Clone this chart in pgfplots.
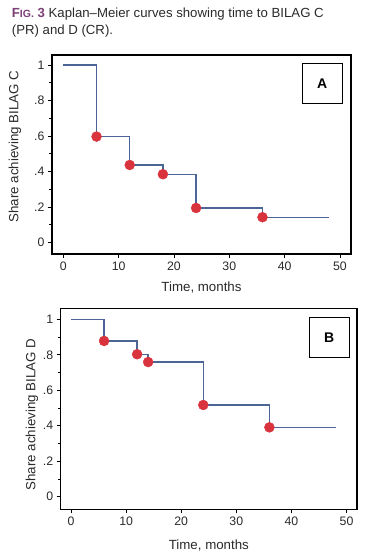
\documentclass[border=0pt]{standalone}
\usepackage{fontspec}
\setmainfont{Liberation Sans}
\usepackage{pgfplots}
\pgfplotsset{compat=1.18}
\definecolor{kmline}{HTML}{4A6596}
\definecolor{kmdot}{HTML}{D9343E}
\definecolor{figpurple}{HTML}{7B3F78}
\definecolor{captext}{HTML}{2A2A2A}

\pgfplotsset{kmaxis/.style={
  scale only axis,
  axis line style={line width=1.3pt, black},
  xtick={0,10,20,30,40,50},
  ytick={0,0.2,0.4,0.6,0.8,1},
  yticklabels={0,.2,.4,.6,.8,1},
  minor ytick={0.1,0.3,0.5,0.7,0.9},
  tick align=outside,
  tick pos=left,
  major tick length=4pt,
  minor tick length=2.5pt,
  every tick/.style={black, line width=0.8pt},
  /pgf/number format/assume math mode=true,
  xticklabel style={font=\fontsize{12.3}{13}\selectfont, text=captext},
  yticklabel style={font=\fontsize{12.3}{13}\selectfont, text=captext},
  xlabel={Time, months},
}}

\begin{document}
\begin{tikzpicture}
\path[use as bounding box] (0,0) rectangle (366pt,552pt);

\node[anchor=base west, inner sep=0pt, text=captext, font=\fontsize{13.2}{14}\selectfont] at (11.7pt,534.7pt)
  {\textcolor{figpurple}{\bfseries F{\fontsize{10.5}{11}\selectfont IG.}\ 3}\ Kaplan–Meier curves showing time to BILAG C};
\node[anchor=base west, inner sep=0pt, text=captext, font=\fontsize{13.2}{14}\selectfont] at (11.7pt,517.7pt)
  {(PR) and D (CR).};

% Panel A
\begin{axis}[kmaxis,
  at={(52pt,298pt)}, anchor=south west,
  width=299pt, height=199pt,
  xmin=-2.05, xmax=52, ymin=-0.064, ymax=1.056,
  ylabel={Share achieving BILAG C},
  xlabel style={at={(axis description cs:0.5,0)}, anchor=center, yshift=-34pt, font=\fontsize{13.3}{15}\selectfont, text=captext},
  ylabel style={at={(axis description cs:-0.124,0.54)}, anchor=center, rotate=0, font=\fontsize{13.3}{15}\selectfont, text=captext},
]
\addplot[const plot mark left, kmline, line width=1.4pt, mark=none] coordinates {
  (0,1) (6,0.597) (12,0.437) (18,0.385) (24,0.195) (36,0.143) (48,0.143)
};
\addplot[only marks, mark=*, mark size=5pt, mark options={fill=kmdot, draw=kmdot}] coordinates {
  (6,0.597) (12,0.437) (18,0.385) (24,0.195) (36,0.143)
};
\node[draw=black, line width=0.9pt, minimum width=40pt, minimum height=40pt, inner sep=0pt,
  font=\bfseries\fontsize{14}{15}\selectfont] at (axis description cs:0.904,0.858) {A};
\end{axis}

% Panel B
\begin{axis}[kmaxis,
  at={(60.7pt,42.7pt)}, anchor=south west,
  width=296.3pt, height=201pt,
  xmin=-1.87, xmax=51.9, ymin=-0.071, ymax=1.062,
  ylabel={Share achieving BILAG D},
  xlabel style={at={(axis description cs:0.5,0)}, anchor=center, yshift=-36.7pt, font=\fontsize{13.3}{15}\selectfont, text=captext},
  ylabel style={at={(axis description cs:-0.097,0.471)}, anchor=center, rotate=0, font=\fontsize{13.3}{15}\selectfont, text=captext},
]
\addplot[const plot mark left, kmline, line width=1.4pt, mark=none] coordinates {
  (0,1) (6,0.878) (12,0.803) (14,0.759) (24,0.517) (36,0.391) (48,0.391)
};
\addplot[only marks, mark=*, mark size=5pt, mark options={fill=kmdot, draw=kmdot}] coordinates {
  (6,0.878) (12,0.803) (14,0.759) (24,0.517) (36,0.391)
};
\node[draw=black, line width=0.9pt, minimum width=40pt, minimum height=40pt, inner sep=0pt,
  font=\bfseries\fontsize{14}{15}\selectfont] at (axis description cs:0.906,0.854) {B};
\end{axis}
\end{tikzpicture}
\end{document}
